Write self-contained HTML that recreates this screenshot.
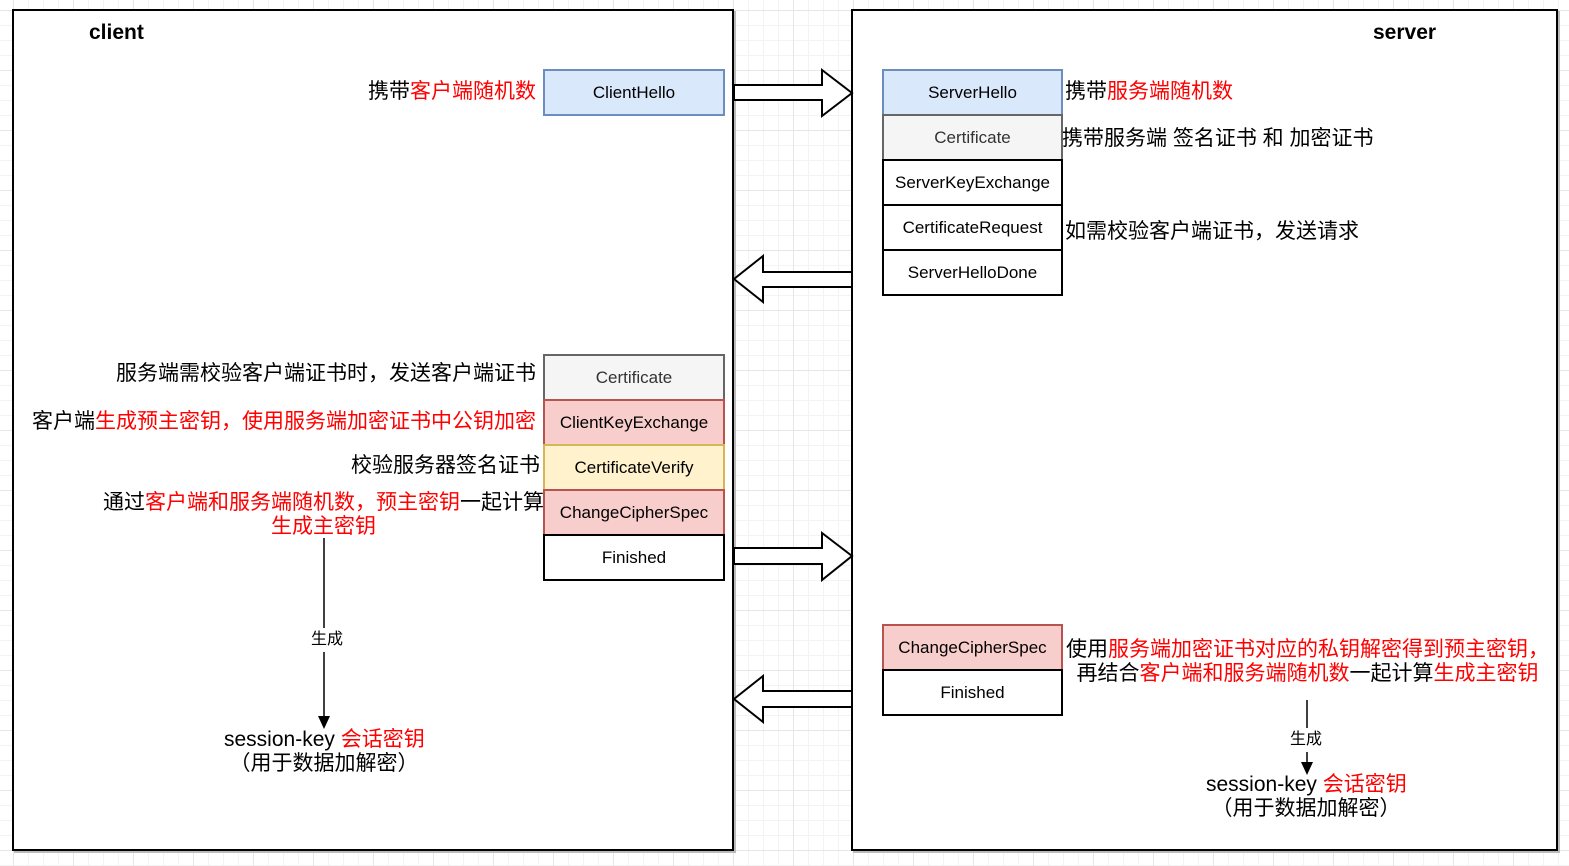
<!DOCTYPE html>
<html><head><meta charset="utf-8"><style>
body{margin:0;width:1569px;height:866px;position:relative;overflow:hidden;background:#fff;
background-image:linear-gradient(#e6e6e6 1px,transparent 1px),linear-gradient(90deg,#e6e6e6 1px,transparent 1px),linear-gradient(#f3f3f3 1px,transparent 1px),linear-gradient(90deg,#f3f3f3 1px,transparent 1px);
background-size:60px 60px,60px 60px,15px 15px,15px 15px;background-position:13px 10px;
font-family:"Liberation Sans","Noto Sans CJK SC",sans-serif;}
.c{position:absolute;background:#fff;border:2px solid #000;box-shadow:2px 2px 0 #bbb;box-sizing:border-box}
.b{position:absolute;box-sizing:border-box;border:2px solid #000;font-size:17px;display:flex;align-items:center;justify-content:center;color:#000}
.bl{background:#dae8fc;border-color:#6c8ebf}
.gr{background:#f5f5f5;border-color:#666;color:#333}
.rd{background:#f8cecc;border-color:#b85450}
.yl{background:#fff2cc;border-color:#d6b656}
.t{position:absolute;font-size:21px;line-height:24px;white-space:nowrap;color:#000}
.r{color:#f00}
.h{position:absolute;font-weight:bold;font-size:21px}
</style></head><body>
<div class="c" style="left:12px;top:9px;width:722px;height:842px"></div>
<div class="c" style="left:851px;top:9px;width:707px;height:842px"></div>
<div class="h" style="left:89px;top:21px">client</div>
<div class="h" style="left:1373px;top:21px">server</div>

<svg style="position:absolute;left:0;top:0" width="1569" height="866">
<g fill="#fff" stroke="#000" stroke-width="2">
<polygon points="734,85 822,85 822,70 852,93 822,116 822,100 734,100"/>
<polygon points="852,272 763,272 763,256 734,279 763,302 763,287 852,287"/>
<polygon points="734,548 822,548 822,533 852,556 822,580 822,564 734,564"/>
<polygon points="852,691 763,691 763,676 734,699 763,722 763,707 852,707"/>
</g>
<g stroke="#000" stroke-width="1.5">
<line x1="324" y1="538" x2="324" y2="628"/><line x1="324" y1="650" x2="324" y2="718"/>
<line x1="1307" y1="700" x2="1307" y2="728"/><line x1="1307" y1="750" x2="1307" y2="765"/>
</g>
<polygon points="318,716 330,716 324,729" fill="#000"/>
<polygon points="1301,762 1313,762 1307,775" fill="#000"/>
</svg>

<div class="b bl" style="left:543px;top:69px;width:182px;height:47px">ClientHello</div>

<div class="b bl" style="left:882px;top:69px;width:181px;height:47px">ServerHello</div>
<div class="b gr" style="left:882px;top:114px;width:181px;height:47px">Certificate</div>
<div class="b" style="left:882px;top:159px;width:181px;height:47px">ServerKeyExchange</div>
<div class="b" style="left:882px;top:204px;width:181px;height:47px">CertificateRequest</div>
<div class="b" style="left:882px;top:249px;width:181px;height:47px">ServerHelloDone</div>

<div class="b gr" style="left:543px;top:354px;width:182px;height:47px">Certificate</div>
<div class="b rd" style="left:543px;top:399px;width:182px;height:47px">ClientKeyExchange</div>
<div class="b yl" style="left:543px;top:444px;width:182px;height:47px">CertificateVerify</div>
<div class="b rd" style="left:543px;top:489px;width:182px;height:47px">ChangeCipherSpec</div>
<div class="b" style="left:543px;top:534px;width:182px;height:47px">Finished</div>

<div class="b rd" style="left:882px;top:624px;width:181px;height:47px">ChangeCipherSpec</div>
<div class="b" style="left:882px;top:669px;width:181px;height:47px">Finished</div>

<div class="t" style="right:1033px;top:80px">携带<span class="r">客户端随机数</span></div>
<div class="t" style="left:1065px;top:80px">携带<span class="r">服务端随机数</span></div>
<div class="t" style="left:1062px;top:127px">携带服务端 签名证书 和 加密证书</div>
<div class="t" style="left:1065px;top:220px">如需校验客户端证书，发送请求</div>
<div class="t" style="right:1033px;top:362px">服务端需校验客户端证书时，发送客户端证书</div>
<div class="t" style="right:1033px;top:410px">客户端<span class="r">生成预主密钥，使用服务端加密证书中公钥加密</span></div>
<div class="t" style="right:1029px;top:454px">校验服务器签名证书</div>
<div class="t" style="right:1025px;top:491px;text-align:center">通过<span class="r">客户端和服务端随机数，预主密钥</span>一起计算<br><span class="r">生成主密钥</span></div>
<div class="t" style="left:311px;top:628px;font-size:16px;background:#fff">生成</div>
<div class="t" style="left:224px;top:728px;width:200px;text-align:center">session-key <span class="r">会话密钥</span><br>（用于数据加解密）</div>

<div class="t" style="left:1066px;top:638px;text-align:center">使用<span class="r">服务端加密证书对应的私钥解密得到预主密钥，</span><br>再结合<span class="r">客户端和服务端随机数</span>一起计算<span class="r">生成主密钥</span></div>
<div class="t" style="left:1290px;top:728px;font-size:16px;background:#fff">生成</div>
<div class="t" style="left:1206px;top:773px;width:200px;text-align:center">session-key <span class="r">会话密钥</span><br>（用于数据加解密）</div>
</body></html>
